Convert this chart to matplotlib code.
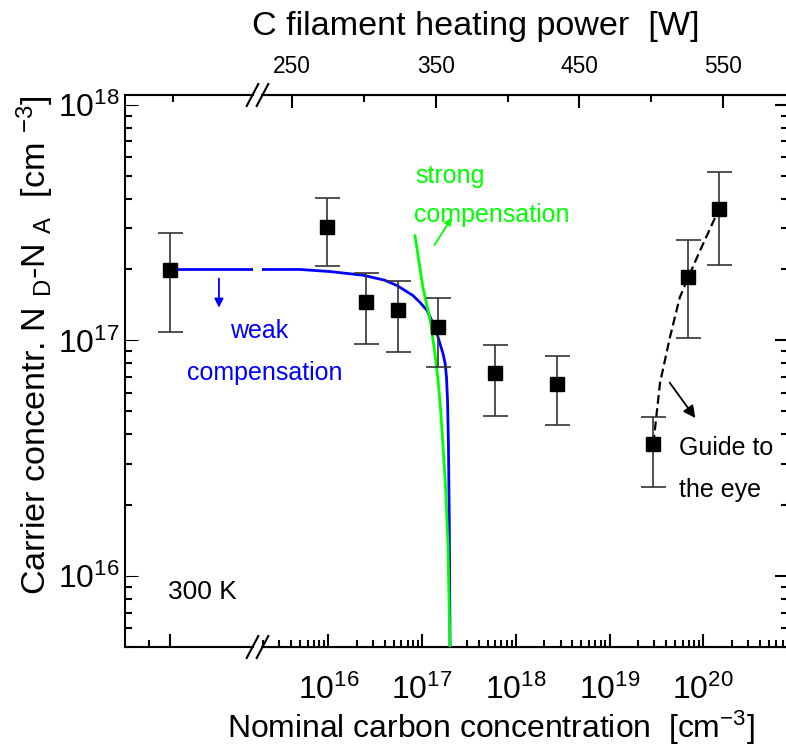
import matplotlib
matplotlib.use("Agg")
import matplotlib.pyplot as plt
from matplotlib import font_manager
from matplotlib.lines import Line2D
from matplotlib.ticker import FixedLocator, FixedFormatter, LogLocator, NullFormatter

# narrow font for axis titles / tick labels (fallback to normal one)
try:
    font_manager.findfont("Liberation Sans Narrow", fallback_to_default=False)
    narrow = "Liberation Sans Narrow"
    k = 1.0
except ValueError:
    narrow = "Liberation Sans"
    k = 0.82

plt.rcParams["font.family"] = ["Liberation Sans", "DejaVu Sans"]
plt.rcParams["mathtext.fontset"] = "custom"
plt.rcParams["mathtext.rm"] = narrow
plt.rcParams["mathtext.it"] = narrow

# ---- data ----
# undoped reference sample (left of the axis break)
undoped_n = 1.98e17
undoped_lo = 1.09e17
undoped_hi = 2.86e17

carbon = [0.97e16, 2.52e16, 5.5e16, 1.48e17, 6.0e17, 2.75e18, 2.93e19, 6.9e19, 1.47e20]
carrier = [3.04e17, 1.45e17, 1.34e17, 1.14e17, 7.25e16, 6.5e16, 3.65e16, 1.85e17, 3.61e17]
carrier_lo = [2.06e17, 9.7e16, 8.9e16, 7.7e16, 4.8e16, 4.36e16, 2.39e16, 1.02e17, 2.09e17]
carrier_hi = [4.04e17, 1.93e17, 1.78e17, 1.51e17, 9.6e16, 8.6e16, 4.73e16, 2.67e17, 5.16e17]

# weak compensation model curve
weak_left_x = [0, 3.95]
weak_left_n = [2.0e17, 2.0e17]
weak_c = [1.96e15, 5.0e15, 1.04e16, 2.35e16, 4.0e16, 5.4e16, 8.0e16, 9.5e16, 1.13e17, 1.31e17,
          1.45e17, 1.55e17, 1.67e17, 1.76e17, 1.82e17, 1.87e17, 1.91e17, 1.95e17, 1.99e17]
weak_n = [2.0e17, 2.0e17, 1.96e17, 1.89e17, 1.80e17, 1.71e17, 1.55e17, 1.45e17, 1.34e17, 1.18e17,
          1.06e17, 9.7e16, 8.8e16, 8.0e16, 7.0e16, 5.5e16, 3.6e16, 1.7e16, 4.5e15]

# strong compensation model curve
strong_c = [8.4e16, 1.02e17, 1.22e17, 1.37e17, 1.48e17, 1.58e17, 1.67e17, 1.79e17, 1.89e17, 1.99e17]
strong_n = [2.78e17, 1.68e17, 1.22e17, 8.8e16, 6.8e16, 5.0e16, 3.6e16, 2.3e16, 1.33e16, 4.5e15]

# guide to the eye
guide_c = [2.93e19, 3.45e19, 4.4e19, 5.6e19, 6.9e19, 9.2e19, 1.47e20]
guide_n = [3.65e16, 6.6e16, 1.03e17, 1.52e17, 1.85e17, 2.4e17, 3.61e17]

# top axis (heating power)
power_major = [250, 350, 450, 550]
power_minor = [300, 400, 500]
conc_major = [1e16, 1e17, 1e18, 1e19, 1e20]
conc_labels = [r"$\mathregular{10^{16}}$", r"$\mathregular{10^{17}}$", r"$\mathregular{10^{18}}$",
               r"$\mathregular{10^{19}}$", r"$\mathregular{10^{20}}$"]
n_major = [1e16, 1e17, 1e18]
n_labels = [r"$\mathregular{10^{16}}$", r"$\mathregular{10^{17}}$", r"$\mathregular{10^{18}}$"]

W, H = 786, 751
fig = plt.figure(figsize=(W / 100, H / 100), dpi=100)

ylim = (5e15, 1.10e18)
ax0 = fig.add_axes([125 / W, 104 / H, 128 / W, 552 / H])
ax = fig.add_axes([262 / W, 104 / H, 526 / W, 552 / H])
ax.patch.set_visible(False)

for a in (ax0, ax):
    a.set_yscale("log")
    a.set_ylim(*ylim)
    for s in a.spines.values():
        s.set_linewidth(1.5)

# left segment (undoped)
ax0.set_xlim(-2.14, 3.95)
ax0.spines["right"].set_visible(False)
ax0.xaxis.set_major_locator(FixedLocator([0]))
ax0.xaxis.set_minor_locator(FixedLocator([-1]))
ax0.xaxis.set_major_formatter(NullFormatter())
ax0.tick_params(axis="x", which="both", top=False, direction="in", width=1.5)
ax0.tick_params(axis="both", which="major", length=9.5)
ax0.tick_params(axis="both", which="minor", length=5, width=1.5, direction="in")
ax0.yaxis.set_major_locator(FixedLocator(n_major))
ax0.yaxis.set_major_formatter(FixedFormatter(n_labels))
ax0.yaxis.set_minor_locator(LogLocator(base=10, subs=range(2, 10)))
ax0.yaxis.set_minor_formatter(NullFormatter())
ax0.tick_params(axis="y", which="both", direction="in", right=False, pad=4,
                labelsize=28 * k, labelfontfamily=narrow)

ax0t = ax0.twiny()
ax0t.set_xlim(ax0.get_xlim())
ax0t.xaxis.set_major_locator(FixedLocator([]))
ax0t.xaxis.set_minor_locator(FixedLocator([0.15]))
ax0t.tick_params(axis="x", which="minor", direction="in", length=5, width=1.5)
for s in ax0t.spines.values():
    s.set_visible(False)

ax0.errorbar([0], [undoped_n], yerr=[[undoped_n - undoped_lo], [undoped_hi - undoped_n]],
             fmt="s", color="black", ms=9.5, ecolor="#333333", elinewidth=1.2,
             capsize=9, capthick=1.2, zorder=4)
ax0.plot(weak_left_x, weak_left_n, color="#0000ff", lw=2, zorder=3)

# main log segment
ax.set_xscale("log")
ax.set_xlim(1.96e15, 8.0e20)
ax.spines["left"].set_visible(False)
ax.xaxis.set_major_locator(FixedLocator(conc_major))
ax.xaxis.set_major_formatter(FixedFormatter(conc_labels))
ax.xaxis.set_minor_locator(LogLocator(base=10, subs=range(2, 10), numticks=20))
ax.xaxis.set_minor_formatter(NullFormatter())
ax.yaxis.set_major_locator(FixedLocator(n_major))
ax.yaxis.set_minor_locator(LogLocator(base=10, subs=range(2, 10)))
ax.yaxis.set_major_formatter(NullFormatter())
ax.yaxis.set_minor_formatter(NullFormatter())
ax.tick_params(axis="x", which="both", direction="in", top=False, bottom=True, pad=20,
               labelsize=28 * k, labelfontfamily=narrow)
ax.tick_params(axis="y", which="both", direction="in", left=False, right=True)
ax.tick_params(which="major", length=9.5, width=1.5)
ax.tick_params(which="minor", length=5, width=1.5)

axt = ax.twiny()
axt.set_xlim(229.1, 595.2)
axt.xaxis.set_major_locator(FixedLocator(power_major))
axt.xaxis.set_minor_locator(FixedLocator(power_minor))
axt.tick_params(axis="x", which="both", direction="in", width=1.5, pad=12,
                labelsize=20 * k, labelfontfamily=narrow)
axt.tick_params(which="major", length=9.5)
axt.tick_params(which="minor", length=5)
axt.spines["left"].set_visible(False)

yerr = [[c - lo for c, lo in zip(carrier, carrier_lo)],
        [hi - c for c, hi in zip(carrier, carrier_hi)]]
ax.errorbar(carbon, carrier, yerr=yerr, fmt="s", color="black", ms=9.5,
            ecolor="#333333", elinewidth=1.2, capsize=9, capthick=1.2, zorder=4)
ax.plot(weak_c, weak_n, color="#0000ff", lw=2, zorder=3)
ax.plot(strong_c, strong_n, color="#00ff00", lw=2, zorder=3)
ax.plot(guide_c, guide_n, color="black", lw=1.6, ls=(0, (4, 2)), zorder=3)

# annotations
ax0.annotate("", xy=(2.33, 1.34e17), xytext=(2.33, 1.88e17),
             arrowprops=dict(arrowstyle="-|>", color="#0000ff", lw=1.3, mutation_scale=13))
ax0.text(2.86, 1.10e17, "weak", color="#0000ff", fontsize=18, va="center", ha="left")
ax0.text(0.81, 7.25e16, "compensation", color="#0000ff", fontsize=18, va="center", ha="left")

ax.annotate("", xy=(2.14e17, 3.39e17), xytext=(1.31e17, 2.48e17),
            arrowprops=dict(arrowstyle="-|>", color="#00ff00", lw=1.3, mutation_scale=10))
ax.text(8.4e16, 5.0e17, "strong", color="#00ff00", fontsize=18, va="center", ha="left")
ax.text(8.2e16, 3.42e17, "compensation", color="#00ff00", fontsize=18, va="center", ha="left")

ax.annotate("", xy=(8.55e19, 4.58e16), xytext=(4.2e19, 6.77e16),
            arrowprops=dict(arrowstyle="-|>", color="black", lw=1.3, mutation_scale=18))
ax.text(5.5e19, 3.49e16, "Guide to", fontsize=18, va="center", ha="left")
ax.text(5.5e19, 2.31e16, "the eye", fontsize=18, va="center", ha="left")
ax0.text(-0.1, 8.55e15, "300 K", fontsize=19, va="center", ha="left")

# axis break marks
for y in (647, 95):
    for cx in (252.5, 262.5):
        fig.add_artist(Line2D([(cx - 5.8) / W, (cx + 5.8) / W],
                              [1 - (y + 11) / H, 1 - (y - 11) / H],
                              transform=fig.transFigure, color="black", lw=1.5))

# axis titles
ax.set_xlabel(r"Nominal carbon concentration  [cm$^{\mathregular{-3}}$]",
              fontsize=28 * k, fontfamily=narrow, va="center")
ax.xaxis.set_label_coords(491 / W, 1 - 728 / H, transform=fig.transFigure)
axt.set_xlabel("C filament heating power  [W]", fontsize=30 * k, fontfamily=narrow, va="center")
axt.xaxis.set_label_coords(476 / W, 1 - 27 / H, transform=fig.transFigure)
ax0.set_ylabel(r"Carrier concentr. N $_{\mathregular{D}}$-N $_{\mathregular{A}}$  [cm $^{\mathregular{-3}}$]",
               fontsize=30 * k, fontfamily=narrow, va="center")
ax0.yaxis.set_label_coords(35 / W, 1 - 345 / H, transform=fig.transFigure)

fig.savefig("out.png", dpi=100)
